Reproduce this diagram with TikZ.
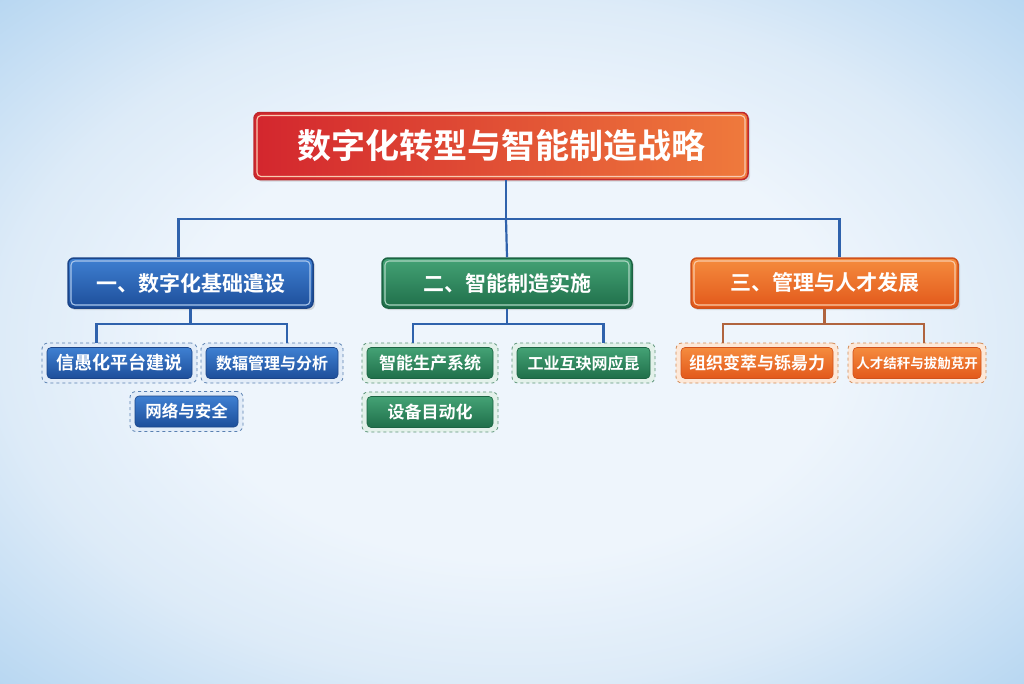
\documentclass[tikz,border=0pt]{standalone}
\usepackage{fontspec}
\newfontfamily\cjk{Noto Sans CJK SC}[BoldFont={Noto Sans CJK SC Bold}]
\usepackage{tikz}
\usetikzlibrary{shadows}
\definecolor{bgin}{HTML}{EEF5FC}
\definecolor{bgmid}{HTML}{DDEBF8}
\definecolor{bgout}{HTML}{B6D6F1}
\definecolor{linkblue}{HTML}{2F62AC}
\definecolor{linkbrown}{HTML}{B0643E}
\definecolor{rootl}{HTML}{D3262E}
\definecolor{rootr}{HTML}{EF7A3C}
\definecolor{rootdark}{HTML}{C0282C}
\definecolor{bluetop}{HTML}{3F80D2}
\definecolor{bluebot}{HTML}{1D4E9A}
\definecolor{bluedark}{HTML}{1B4589}
\definecolor{greentop}{HTML}{44A275}
\definecolor{greenbot}{HTML}{1F6F4A}
\definecolor{greendark}{HTML}{1C6443}
\definecolor{orangetop}{HTML}{F58C3E}
\definecolor{orangebot}{HTML}{E2581B}
\definecolor{orangedark}{HTML}{D0521C}
\pgfdeclareradialshading{bgshade}{\pgfpoint{0bp}{0bp}}{color(0bp)=(bgin); color(16bp)=(bgin); color(25bp)=(bgmid); color(36bp)=(bgout); color(50bp)=(bgout)}

\begin{document}
\begin{tikzpicture}[x=1pt,y=-1pt,
  inframe/.style={path picture={\draw[#1,line width=1.1pt,rounded corners=4pt]
    ([shift={(3pt,-3pt)}]path picture bounding box.north west) rectangle
    ([shift={(-3pt,3pt)}]path picture bounding box.south east);}},
  link/.style={line width=2.2pt,draw=linkblue},
  topbox/.style={rounded corners=6pt,draw=rootdark,line width=1.5pt,
    left color=rootl,right color=rootr,text=white,inframe=white!60!rootr,
    font=\cjk\bfseries\fontsize{34}{36}\selectfont,
    minimum width=494pt,minimum height=67pt,drop shadow={opacity=.25}},
  head/.style={rounded corners=6pt,line width=1.5pt,text=white,
    font=\cjk\bfseries\fontsize{21}{24}\selectfont,
    minimum height=50pt,drop shadow={opacity=.25}},
  bluehead/.style={head,draw=bluedark,top color=bluetop,bottom color=bluebot,inframe=white!55!bluetop},
  greenhead/.style={head,draw=greendark,top color=greentop,bottom color=greenbot,inframe=white!55!greentop},
  orangehead/.style={head,draw=orangedark,top color=orangetop,bottom color=orangebot,inframe=white!55!orangetop},
  frame/.style={rounded corners=6pt,dashed,line width=.8pt,minimum height=40pt},
  blueframe/.style={frame,draw=bluetop!60!gray,fill=bluetop!15!white},
  greenframe/.style={frame,draw=greentop!60!gray,fill=greentop!15!white},
  orangeframe/.style={frame,draw=orangetop!70!gray,fill=orangetop!20!white},
  item/.style={rounded corners=4pt,text=white,minimum height=31pt,inner xsep=1pt,
    line width=.6pt,font=\cjk\bfseries\fontsize{17}{18}\selectfont},
  blueitem/.style={item,draw=bluedark,top color=bluetop,bottom color=bluebot},
  greenitem/.style={item,draw=greendark,top color=greentop,bottom color=greenbot},
  orangeitem/.style={item,draw=orangedark,top color=orangetop,bottom color=orangebot}]

\shade[shading=bgshade] (0,0) rectangle (1024,683);

\node[topbox] (root) at (501,146) {数字化转型与智能制造战略\hspace{20pt}};

\node[bluehead,minimum width=245pt] (b1) at (190.5,283) {一、数字化基础遣设};
\node[greenhead,minimum width=250pt] (b2) at (507,283) {二、智能制造实施};
\node[orangehead,minimum width=267pt] (b3) at (824.5,283) {三、管理与人才发展};

\node[blueframe,minimum width=155pt] (f11) at (119.5,363) {};
\node[blueitem,minimum width=145pt,font=\cjk\bfseries\fontsize{18}{18}\selectfont] (c11) at (f11) {信愚化平台建说};
\node[blueframe,minimum width=142pt] (f12) at (272,363) {};
\node[blueitem,minimum width=132pt,font=\cjk\bfseries\fontsize{16}{18}\selectfont] (c12) at (f12) {数辐管理与分析};
\node[blueframe,minimum width=113pt] (f13) at (186.5,411.5) {};
\node[blueitem,minimum width=103pt,font=\cjk\bfseries\fontsize{16.5}{18}\selectfont] (c13) at (f13) {网络与安全};

\node[greenframe,minimum width=136pt] (f21) at (430,363) {};
\node[greenitem,minimum width=126pt] (c21) at (f21) {智能生产系统};
\node[greenframe,minimum width=143pt] (f22) at (583.5,363) {};
\node[greenitem,minimum width=133pt,font=\cjk\bfseries\fontsize{16}{18}\selectfont] (c22) at (f22) {工业互玦网应昆};
\node[greenframe,minimum width=136pt] (f23) at (430,412) {};
\node[greenitem,minimum width=126pt] (c23) at (f23) {设备目动化};

\node[orangeframe,minimum width=162pt] (f31) at (757,363) {};
\node[orangeitem,minimum width=152pt] (c31) at (f31) {组织变萃与铄昜力};
\node[orangeframe,minimum width=138pt] (f32) at (917,363) {};
\node[orangeitem,minimum width=128pt,font=\cjk\bfseries\fontsize{13.5}{15}\selectfont] (c32) at (f32) {人才结秆与拔觔莌开};

% connectors
\draw[link] ([xshift=5pt]root.south) -- ++(0,39) coordinate (bus);
\draw[link] ([xshift=-12pt]b1.north) |- (bus) -| ([xshift=15pt]b3.north);
\draw[link] (bus) -- (b2.north);

\draw[link] (b1.south) -- ++(0,15) coordinate (j1);
\draw[link] ([xshift=-23pt]f11.north) |- (j1) -| ([xshift=15pt]f12.north);
\draw[link] (b2.south) -- ++(0,15) coordinate (j2);
\draw[link] ([xshift=-17pt]f21.north) |- (j2) -| ([xshift=20pt]f22.north);
\draw[link,draw=linkbrown] (b3.south) -- ++(0,15) coordinate (j3);
\draw[link,draw=linkbrown] ([xshift=-34pt]f31.north) |- (j3) -| ([xshift=7pt]f32.north);
\end{tikzpicture}
\end{document}
